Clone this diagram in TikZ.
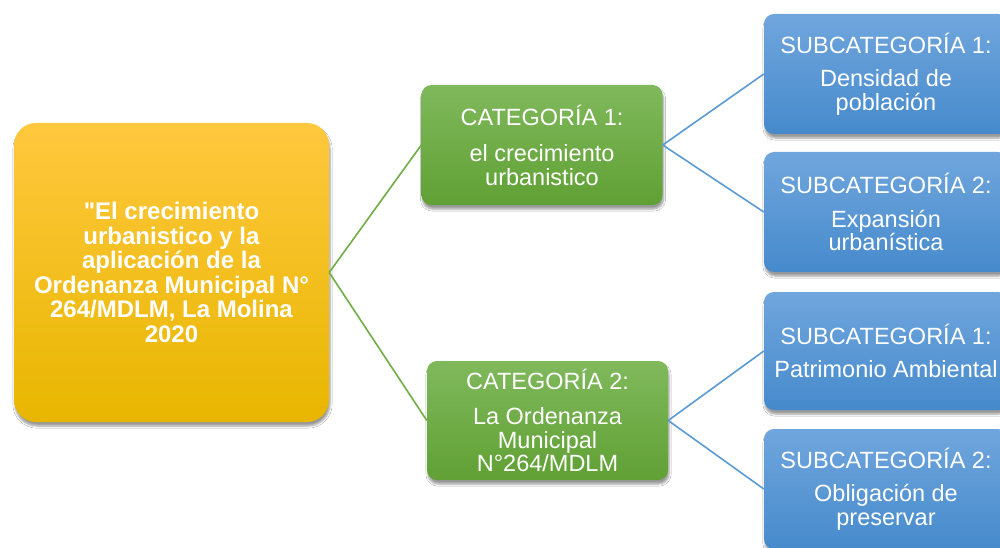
\documentclass[tikz,border=0pt]{standalone}
\usepackage{fontspec}
\setmainfont{Liberation Sans}[Ligatures=TeXOff]
\usetikzlibrary{shadows.blur}
\definecolor{goldtop}{RGB}{255,200,62}
\definecolor{goldbot}{RGB}{232,182,0}
\definecolor{greentop}{RGB}{128,185,92}
\definecolor{greenbot}{RGB}{96,160,52}
\definecolor{bluetop}{RGB}{112,166,221}
\definecolor{bluebot}{RGB}{70,138,204}
\definecolor{greenline}{RGB}{112,173,71}
\definecolor{blueline}{RGB}{91,155,213}
\tikzset{
  boxbase/.style={rounded corners=10pt, text=white, align=center, inner sep=0pt,
    blur shadow={shadow blur steps=6, shadow xshift=1pt, shadow yshift=-4pt, shadow opacity=40},
    font=\fontsize{23.5}{23.5}\selectfont},
  mainbox/.style={boxbase, rounded corners=22pt, top color=goldtop, bottom color=goldbot,
    minimum width=315pt, minimum height=299pt,
    font=\fontsize{24}{24.5}\selectfont\bfseries},
  catbox/.style={boxbase, top color=greentop, bottom color=greenbot,
    minimum width=241pt, minimum height=120pt},
  subbox/.style={boxbase, top color=bluetop, bottom color=bluebot,
    minimum width=244pt, minimum height=120pt},
  gline/.style={draw=greenline, line width=1.6pt},
  bline/.style={draw=blueline, line width=1.6pt}
}
\begin{document}
\begin{tikzpicture}[x=1pt,y=-1pt]
\useasboundingbox (0,0) rectangle (1000,548);
\clip (0,0) rectangle (1000,548);
\fill[white] (0,0) rectangle (1000,548);
\node[mainbox] (main) at (171.5,272.5) {"El crecimiento\\urbanistico y la\\aplicación de la\\Ordenanza Municipal N°\\264/MDLM, La Molina\\2020};
\node[catbox] (cat1) at (542,145) {CATEGORÍA 1:\\[13pt]el crecimiento\\urbanistico};
\node[catbox, minimum height=119pt] (cat2) at (547.5,420.5) {CATEGORÍA 2:\\[12pt]La Ordenanza\\Municipal\\N°264/MDLM};
\node[subbox] (s1) at (886,74) {SUBCATEGORÍA 1:\\[10pt]Densidad de\\población};
\node[subbox] (s2) at (886,212) {SUBCATEGORÍA 2:\\[10pt]Expansión\\urbanística};
\node[subbox, minimum height=118pt] (s3) at (886,351) {SUBCATEGORÍA 1:\\[10pt]Patrimonio Ambiental};
\node[subbox] (s4) at (886,489) {SUBCATEGORÍA 2:\\[10pt]Obligación de\\preservar};
\draw[gline] (main.east) -- (cat1.west);
\draw[gline] (main.east) -- (cat2.west);
\draw[bline] (cat1.east) -- (s1.west);
\draw[bline] (cat1.east) -- (s2.west);
\draw[bline] (cat2.east) -- (s3.west);
\draw[bline] (cat2.east) -- (s4.west);
\end{tikzpicture}
\end{document}
